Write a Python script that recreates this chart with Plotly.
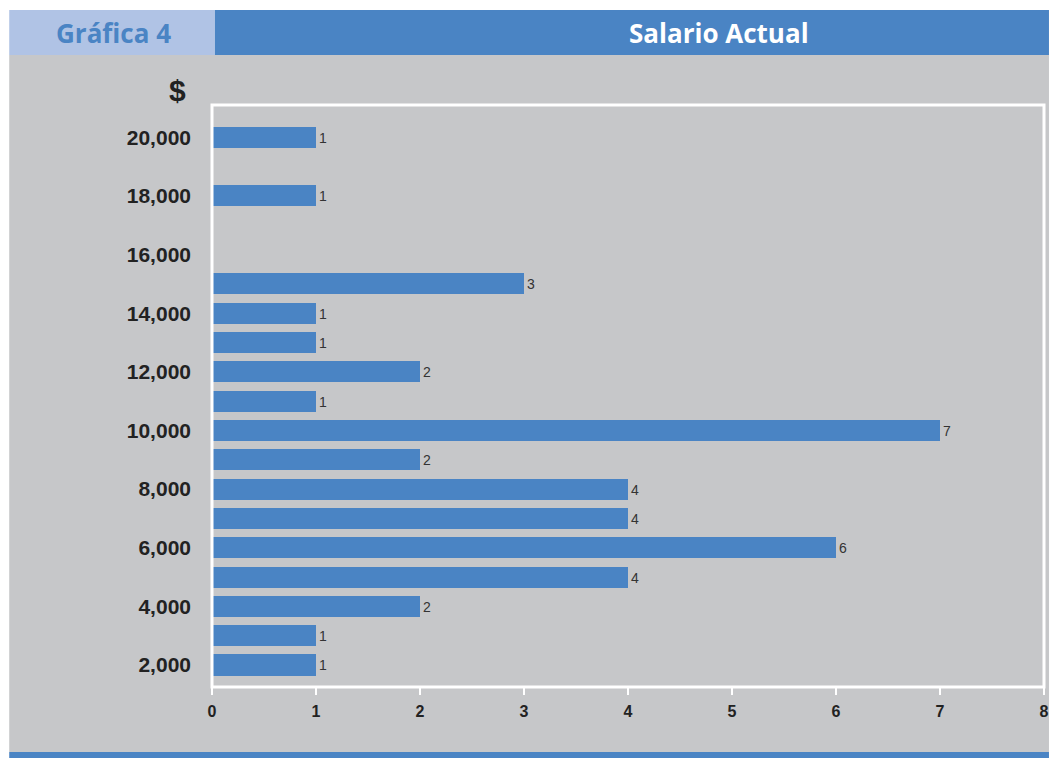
import plotly.graph_objects as go

# Data
salarios = [2000, 3000, 4000, 5000, 6000, 7000, 8000, 9000, 10000, 11000,
            12000, 13000, 14000, 15000, 18000, 20000]
frecuencia = [1, 1, 2, 4, 6, 4, 4, 2, 7, 1, 2, 1, 1, 3, 1, 1]
y_ticks = [2000, 4000, 6000, 8000, 10000, 12000, 14000, 16000, 18000, 20000]
y_ticklabels = ["2,000", "4,000", "6,000", "8,000", "10,000", "12,000",
                "14,000", "16,000", "18,000", "20,000"]
x_ticks = [0, 1, 2, 3, 4, 5, 6, 7, 8]

W, H = 1054, 758
L, R, T, B = 212, 1049, 105, 687

BLUE = "#4a84c4"
LIGHT = "#b0c3e5"
GREY = "#c6c7c9"
NARROW = "Liberation Sans Narrow, Arial Narrow, Liberation Sans, Arial, sans-serif"
TITLE = "Open Sans, Lato, sans-serif"


def px(x):
    return (x - L) / (R - L)


def py(y):
    return (B - y) / (B - T)


fig = go.Figure()
fig.add_trace(go.Bar(
    x=frecuencia, y=salarios, orientation="h", width=720,
    marker=dict(color=BLUE, line=dict(width=0)),
    text=[str(v) for v in frecuencia], textposition="outside",
    textfont=dict(family=NARROW, size=14, color="#333333"),
    cliponaxis=False, hoverinfo="x+y",
))

shapes = [
    dict(type="rect", xref="paper", yref="paper", x0=px(8), x1=px(1054), y0=py(752), y1=py(55),
         fillcolor=GREY, line=dict(width=0), layer="below"),
    dict(type="rect", xref="paper", yref="paper", x0=px(8), x1=px(215), y0=py(55), y1=py(10),
         fillcolor=LIGHT, line=dict(width=0), layer="below"),
    dict(type="rect", xref="paper", yref="paper", x0=px(215), x1=px(1054), y0=py(55), y1=py(10),
         fillcolor=BLUE, line=dict(width=0), layer="below"),
    dict(type="rect", xref="paper", yref="paper", x0=px(8), x1=px(1054), y0=py(758), y1=py(752),
         fillcolor=BLUE, line=dict(width=0), layer="below"),
    dict(type="rect", xref="paper", yref="paper", x0=0, x1=1, y0=0, y1=1,
         fillcolor="rgba(0,0,0,0)", line=dict(color="white", width=3), layer="above"),
]

annotations = [
    dict(text="Gráfica 4", x=px(113), y=py(33), xref="paper", yref="paper",
         showarrow=False, xanchor="center", yanchor="middle",
         font=dict(family=TITLE, size=26, color=BLUE, weight="bold")),
    dict(text="Salario Actual", x=px(722), y=py(33), xref="paper", yref="paper",
         showarrow=False, xanchor="center", yanchor="middle",
         font=dict(family=TITLE, size=26, color="white", weight="bold")),
    dict(text="$", x=px(177), y=py(90), xref="paper", yref="paper",
         showarrow=False, xanchor="center", yanchor="middle",
         font=dict(family=NARROW, size=30, color="#222222", weight="bold")),
]

fig.update_layout(
    width=W, height=H,
    margin=dict(l=L, r=W - R, t=T, b=H - B, pad=0),
    paper_bgcolor="white", plot_bgcolor="rgba(0,0,0,0)",
    showlegend=False, bargap=0,
    shapes=shapes, annotations=annotations,
    xaxis=dict(range=[0, 8], tickvals=x_ticks, showgrid=False, zeroline=False, showline=False,
               ticks="outside", ticklen=7, tickwidth=1.5, tickcolor="white",
               ticklabelstandoff=3,
               tickfont=dict(family=NARROW, size=16, color="#222222", weight="bold"),
               fixedrange=True),
    yaxis=dict(range=[1250, 21100], tickvals=y_ticks, ticktext=y_ticklabels,
               showgrid=False, zeroline=False, showline=False, ticks="",
               ticklabelstandoff=20,
               tickfont=dict(family=NARROW, size=21, color="#222222", weight="bold"),
               fixedrange=True),
)

fig.write_html(
    "out.html",
    config={"responsive": False, "displayModeBar": False},
    post_script="document.body.style.margin='0';"
                "document.body.style.overflow='hidden';"
                "document.documentElement.style.overflow='hidden';",
)
